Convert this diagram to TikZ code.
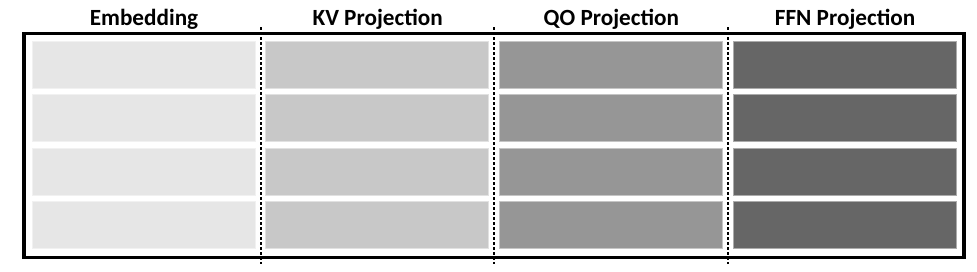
\documentclass[tikz,border=0pt]{standalone}
\usepackage{fontspec}
\setmainfont{Carlito}
\usepackage{xcolor}
\definecolor{embfill}{HTML}{E6E6E6}
\definecolor{kvfill}{HTML}{C8C8C8}
\definecolor{qofill}{HTML}{969696}
\definecolor{ffnfill}{HTML}{666666}
\usepackage{tikz}
\usetikzlibrary{positioning,calc}

\begin{document}
\begin{tikzpicture}[x=1pt,y=-1pt,
  colhead/.style={font=\fontsize{23.2}{26}\selectfont\bfseries,inner sep=0pt,anchor=base},
  slab/.style={draw=#1!55!white,line width=0.8pt,fill=#1,minimum width=223pt,minimum height=47pt,inner sep=0pt,outer sep=0pt,anchor=north west},
  outerframe/.style={draw,line width=3.6pt,minimum width=939.9pt,minimum height=223.8pt,inner sep=0pt},
  sepline/.style={line width=1.6pt,dash pattern=on 3pt off 2pt}]
\useasboundingbox (0,0) rectangle (977,271);

% four parameter groups, four rows each
\foreach \grp/\col/\txt [count=\i from 0] in {emb/embfill/Embedding,kv/kvfill/KV Projection,qo/qofill/QO Projection,ffn/ffnfill/FFN Projection}{
  \node[colhead] (\grp-head) at (144+233.7*\i,25.5) {\txt};
  \foreach \r in {1,...,4}
    \node[slab=\col] (\grp-\r) at (32+233.7*\i,41+53.6*\r-53.6) {};
}

\node[outerframe] (frame) at (493.75,145.4) {};

% dotted group borders
\foreach \s/\xx in {a/261,b/494,c/728}{
  \coordinate (sep-\s-top) at (\xx,27);
  \coordinate (sep-\s-bot) at (\xx,264);
  \draw[sepline] (sep-\s-top) -- (sep-\s-bot);
}
\end{tikzpicture}
\end{document}
